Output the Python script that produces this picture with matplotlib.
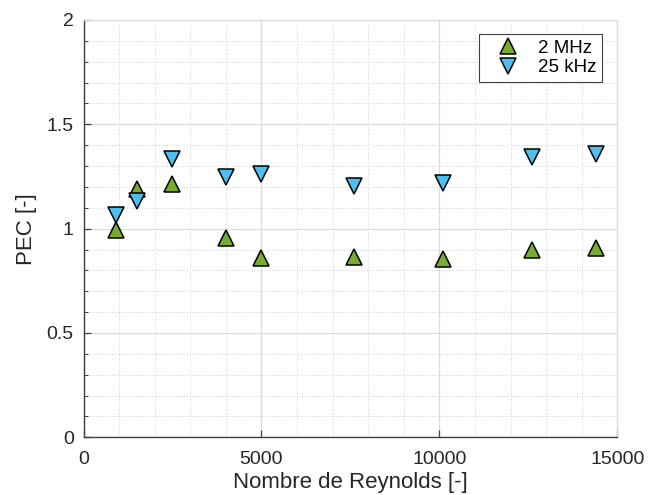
import matplotlib
matplotlib.use('Agg')
import matplotlib.pyplot as plt
from matplotlib.ticker import MultipleLocator

plt.rcParams['font.family'] = ['Liberation Sans', 'DejaVu Sans']

# Données
reynolds = [900, 1500, 2500, 4000, 5000, 7600, 10100, 12600, 14400]
pec_2mhz = [0.994, 1.19, 1.213, 0.954, 0.858, 0.866, 0.853, 0.898, 0.906]
pec_25khz = [1.067, 1.133, 1.334, 1.246, 1.262, 1.205, 1.218, 1.345, 1.357]

fig = plt.figure(figsize=(6.5, 4.95), dpi=100)
ax = fig.add_axes([0.1285, 0.1166, 0.8212, 0.843])

ax.plot(reynolds, pec_2mhz, linestyle='none', marker='^', markersize=12,
        markerfacecolor='#77AC30', markeredgecolor='black', markeredgewidth=1.1,
        label='2 MHz', zorder=3)
ax.plot(reynolds, pec_25khz, linestyle='none', marker='v', markersize=12,
        markerfacecolor='#4DBEEE', markeredgecolor='black', markeredgewidth=1.1,
        label='25 kHz', zorder=3)

ax.set_xlim(0, 15000)
ax.set_ylim(0, 2)
ax.set_xticks([0, 5000, 10000, 15000])
ax.set_yticks([0, 0.5, 1, 1.5, 2])
ax.set_yticklabels(['0', '0.5', '1', '1.5', '2'])
ax.xaxis.set_minor_locator(MultipleLocator(1000))
ax.yaxis.set_minor_locator(MultipleLocator(0.1))

ax.grid(which='major', color='#dcdcdc', linestyle='-', linewidth=0.9)
ax.grid(which='minor', color='#c4c4c4', linestyle=(0, (1, 2)), linewidth=0.6)
ax.set_axisbelow(True)

for side in ['left', 'bottom']:
    ax.spines[side].set_color('#404040')
    ax.spines[side].set_linewidth(1.0)
for side in ['top', 'right']:
    ax.spines[side].set_color('#dcdcdc')
    ax.spines[side].set_linewidth(0.9)

ax.tick_params(which='major', direction='in', length=5, width=0.9,
               color='#404040', labelsize=14, pad=7, labelcolor='#262626')
ax.tick_params(axis='y', which='minor', direction='in', length=3, width=0.7,
               color='#404040')
ax.tick_params(axis='x', which='minor', length=0)
ax.tick_params(axis='x', which='major', pad=10)

ax.set_xlabel('Nombre de Reynolds [-]', fontsize=16, color='#262626', labelpad=3)
ax.set_ylabel('PEC [-]', fontsize=16, color='#262626', labelpad=7)

leg = ax.legend(loc='upper right', bbox_to_anchor=(1 - 15 / 533.8, 1 - 14 / 417.3),
                borderaxespad=0, fontsize=13.5, fancybox=False, framealpha=1,
                edgecolor='#404040', handletextpad=0.35, handlelength=2.5,
                labelspacing=0.12, borderpad=0.3)
leg.get_frame().set_linewidth(0.8)

fig.savefig('out.png', dpi=100)
